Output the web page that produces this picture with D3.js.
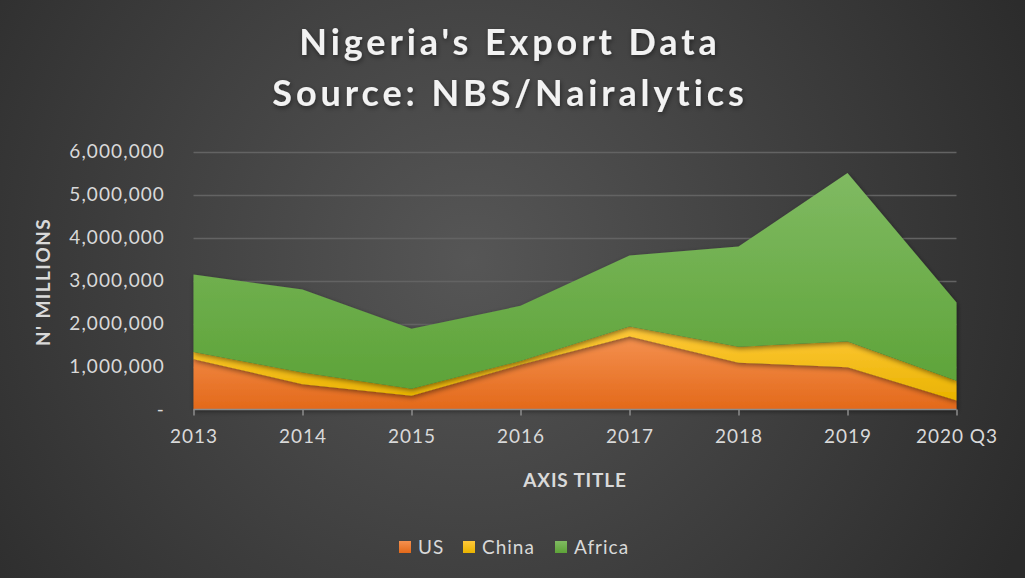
<!DOCTYPE html>
<html><head><meta charset="utf-8">
<script src="https://cdn.jsdelivr.net/npm/d3@7"></script>
<style>html,body{margin:0;padding:0;background:#3a3a3a;}svg{display:block;}</style>
</head><body>
<svg id="chart" width="1025" height="578"></svg>
<script>
const categories = ["2013","2014","2015","2016","2017","2018","2019","2020 Q3"];
const seriesNames = ["US","China","Africa"];
const usValues     = [1170000, 590000, 320000, 1040000, 1700000, 1090000, 985000, 210000];
const chinaValues  = [170000, 270000, 160000, 90000, 230000, 370000, 595000, 460000];
const africaValues = [1800000, 1930000, 1400000, 1280000, 1650000, 2330000, 3920000, 1820000];
const yTicks = [0,1000000,2000000,3000000,4000000,5000000,6000000];
const titleLines = ["Nigeria's Export Data","Source: NBS/Nairalytics"];

const W=1025,H=578;
const svg=d3.select("#chart");
const defs=svg.append("defs");
const bg=defs.append("radialGradient").attr("id","bg").attr("gradientUnits","userSpaceOnUse")
  .attr("cx",470).attr("cy",260).attr("r",620);
bg.append("stop").attr("offset","0").attr("stop-color","#565656");
bg.append("stop").attr("offset","1").attr("stop-color","#2b2b2b");
svg.append("rect").attr("width",W).attr("height",H).attr("fill","url(#bg)");

const colors={US:["#f4904f","#e3691a"],China:["#ffc83a","#e9b300"],Africa:["#80ba62","#5da338"]};
seriesNames.forEach(n=>{
  const g=defs.append("linearGradient").attr("id","g"+n).attr("x1",0).attr("y1",0).attr("x2",0).attr("y2",1);
  g.append("stop").attr("offset","0").attr("stop-color",colors[n][0]);
  g.append("stop").attr("offset","1").attr("stop-color",colors[n][1]);
});
const f=defs.append("filter").attr("id","sh").attr("x","-10%").attr("y","-10%").attr("width","120%").attr("height","130%");
f.append("feDropShadow").attr("dx",1).attr("dy",2).attr("stdDeviation",2.5).attr("flood-color","#000").attr("flood-opacity",0.45);

const font="Lato, 'Open Sans', sans-serif";
const x=d3.scalePoint().domain(categories).range([193.5,956.5]);
const y=d3.scaleLinear().domain([0,6000000]).range([409.5,151.5]);

// gridlines
svg.append("g").selectAll("line").data(yTicks.slice(1)).join("line")
  .attr("x1",193.5).attr("x2",956.5).attr("y1",d=>Math.round(y(d))+0.5).attr("y2",d=>Math.round(y(d))+0.5)
  .attr("stroke","#636363").attr("stroke-width",1.3);

// y labels
svg.append("g").selectAll("text").data(yTicks).join("text")
  .attr("x",165).attr("y",d=>y(d)).attr("dy","0.36em").attr("text-anchor","end")
  .attr("fill","#d9d9d9").attr("font-family",font).attr("font-size",19).attr("letter-spacing",1.1)
  .text(d=>d===0?"-":d3.format(",")(d));

// stacked areas
const rows=categories.map((c,i)=>({cat:c,US:usValues[i],China:chinaValues[i],Africa:africaValues[i]}));
const stack=d3.stack().keys(seriesNames)(rows);
const area=d3.area().x(d=>x(d.data.cat)).y0(d=>y(d[0])).y1(d=>y(d[1]));
const ag=svg.append("g");
stack.forEach(s=>{
  ag.append("path").attr("d",area(s)).attr("fill","url(#g"+s.key+")").attr("filter","url(#sh)");
});

// x axis
const xa=svg.append("g").attr("transform","translate(0,409.5)")
  .call(d3.axisBottom(x).tickSizeOuter(0).tickSize(6).tickPadding(14));
xa.select(".domain").attr("stroke","#8c8c8c").attr("stroke-width",1.5).attr("d","M193.5,0H956.5");
xa.selectAll(".tick line").attr("stroke","#8c8c8c").attr("stroke-width",1.5);
xa.selectAll("text").attr("fill","#d9d9d9").attr("font-family",font).attr("font-size",19).attr("letter-spacing",1);

// titles
svg.append("g").selectAll("text").data(titleLines).join("text")
  .attr("x",510).attr("y",(d,i)=>55+i*51).attr("text-anchor","middle")
  .attr("fill","#f2f2f2").attr("font-family",font).attr("font-weight","bold").attr("font-size",36)
  .attr("letter-spacing",3.9).attr("filter","url(#sh)").text(d=>d);

svg.append("text").attr("x",575).attr("y",487).attr("text-anchor","middle")
  .attr("fill","#d9d9d9").attr("font-family",font).attr("font-weight","bold").attr("font-size",19)
  .attr("letter-spacing",0.8).text("AXIS TITLE");
svg.append("text").attr("transform","translate(50,282) rotate(-90)").attr("text-anchor","middle")
  .attr("fill","#d9d9d9").attr("font-family",font).attr("font-weight","bold").attr("font-size",19)
  .attr("letter-spacing",1.4).text("N' MILLIONS");

// legend
const legX=[399,463,555];
const lg=svg.append("g");
seriesNames.forEach((n,i)=>{
  lg.append("rect").attr("x",legX[i]).attr("y",541).attr("width",12).attr("height",12).attr("fill","url(#g"+n+")");
  lg.append("text").attr("x",legX[i]+19).attr("y",554).attr("fill","#d9d9d9").attr("font-family",font)
    .attr("font-size",19).attr("letter-spacing",1).text(n);
});
</script>
</body></html>
